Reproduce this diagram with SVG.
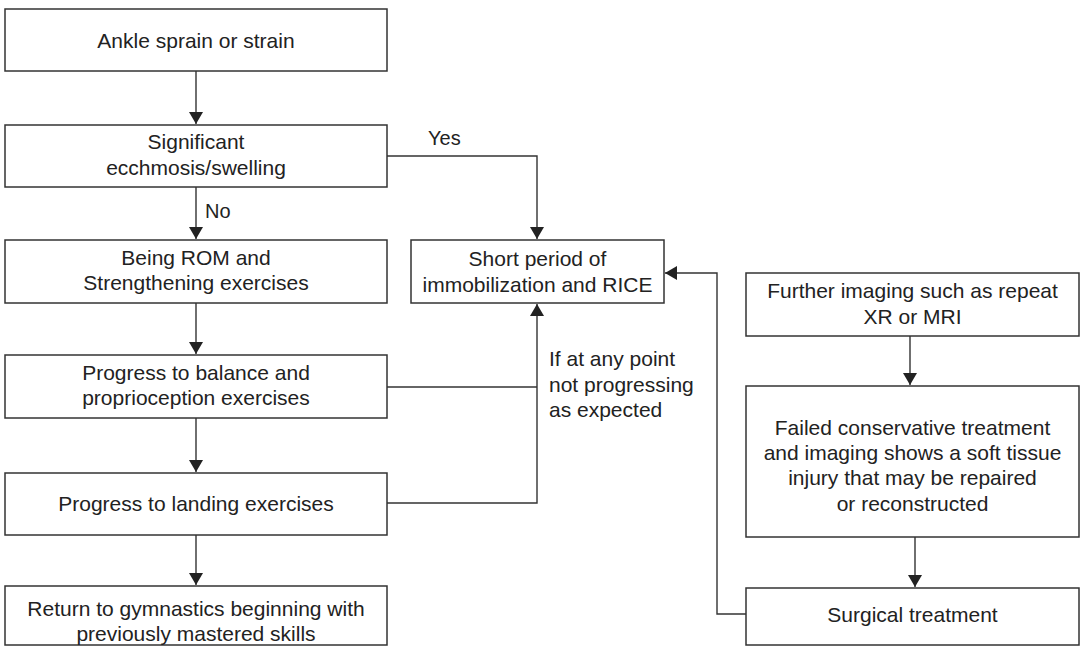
<svg xmlns="http://www.w3.org/2000/svg" width="1080" height="646" viewBox="0 0 1080 646">
<style>
.box{fill:#fff;stroke:#333;stroke-width:1.5}
.t{font-family:"Liberation Sans",Arial,sans-serif;font-size:21px;fill:#222;text-anchor:middle}
.l{font-family:"Liberation Sans",Arial,sans-serif;font-size:20px;fill:#222}
.l2{font-family:"Liberation Sans",Arial,sans-serif;font-size:21px;fill:#222}
.c{fill:none;stroke:#333;stroke-width:1.4}
</style>
<defs>
<marker id="ah" markerUnits="userSpaceOnUse" markerWidth="14" markerHeight="14" refX="12" refY="7" orient="auto">
<path d="M0,0 L12,7 L0,14 z" fill="#222"/>
</marker>
</defs>
<rect width="1080" height="646" fill="#fff"/>
<g id="connectors">
<path class="c" d="M196,71 V124" marker-end="url(#ah)"/>
<path class="c" d="M196,187 V239" marker-end="url(#ah)"/>
<path class="c" d="M196,303 V354" marker-end="url(#ah)"/>
<path class="c" d="M196,418 V472" marker-end="url(#ah)"/>
<path class="c" d="M196,535 V585" marker-end="url(#ah)"/>
<path class="c" d="M387,156 H537 V239" marker-end="url(#ah)"/>
<path class="c" d="M387,387 H537"/>
<path class="c" d="M387,503 H537 V304" marker-end="url(#ah)"/>
<path class="c" d="M910,336 V385" marker-end="url(#ah)"/>
<path class="c" d="M915,537 V587" marker-end="url(#ah)"/>
<path class="c" d="M746,614 H717 V273 H665" marker-end="url(#ah)"/>
<text class="l" x="428" y="145">Yes</text>
<text class="l" x="205" y="218">No</text>
<text class="l2" x="549" y="366">If at any point</text>
<text class="l2" x="549" y="391.5">not progressing</text>
<text class="l2" x="549" y="417">as expected</text>
</g>
<g id="ankle">
<rect class="box" x="5" y="9" width="382" height="62"/>
<text class="t" x="196" y="48">Ankle sprain or strain</text>
</g>
<g id="swelling">
<rect class="box" x="5" y="125" width="382" height="62"/>
<text class="t" x="196" y="149">Significant</text>
<text class="t" x="196" y="175">ecchmosis/swelling</text>
</g>
<g id="rom">
<rect class="box" x="5" y="240" width="382" height="63"/>
<text class="t" x="196" y="265">Being ROM and</text>
<text class="t" x="196" y="290">Strengthening exercises</text>
</g>
<g id="balance">
<rect class="box" x="5" y="355" width="382" height="63"/>
<text class="t" x="196" y="380">Progress to balance and</text>
<text class="t" x="196" y="405">proprioception exercises</text>
</g>
<g id="landing">
<rect class="box" x="5" y="473" width="382" height="62"/>
<text class="t" x="196" y="511">Progress to landing exercises</text>
</g>
<g id="return">
<rect class="box" x="5" y="586" width="382" height="59"/>
<text class="t" x="196" y="616">Return to gymnastics beginning with</text>
<text class="t" x="196" y="641">previously mastered skills</text>
</g>
<g id="rice">
<rect class="box" x="411" y="240" width="253" height="63"/>
<text class="t" x="537.5" y="266">Short period of</text>
<text class="t" x="537.5" y="292">immobilization and RICE</text>
</g>
<g id="imaging">
<rect class="box" x="746" y="273" width="333" height="63"/>
<text class="t" x="912.5" y="298">Further imaging such as repeat</text>
<text class="t" x="912.5" y="324">XR or MRI</text>
</g>
<g id="failed">
<rect class="box" x="746" y="386" width="333" height="151"/>
<text class="t" x="912.5" y="435">Failed conservative treatment</text>
<text class="t" x="912.5" y="460">and imaging shows a soft tissue</text>
<text class="t" x="912.5" y="485">injury that may be repaired</text>
<text class="t" x="912.5" y="511">or reconstructed</text>
</g>
<g id="surgical">
<rect class="box" x="746" y="588" width="333" height="57"/>
<text class="t" x="912.5" y="622">Surgical treatment</text>
</g>
</svg>
